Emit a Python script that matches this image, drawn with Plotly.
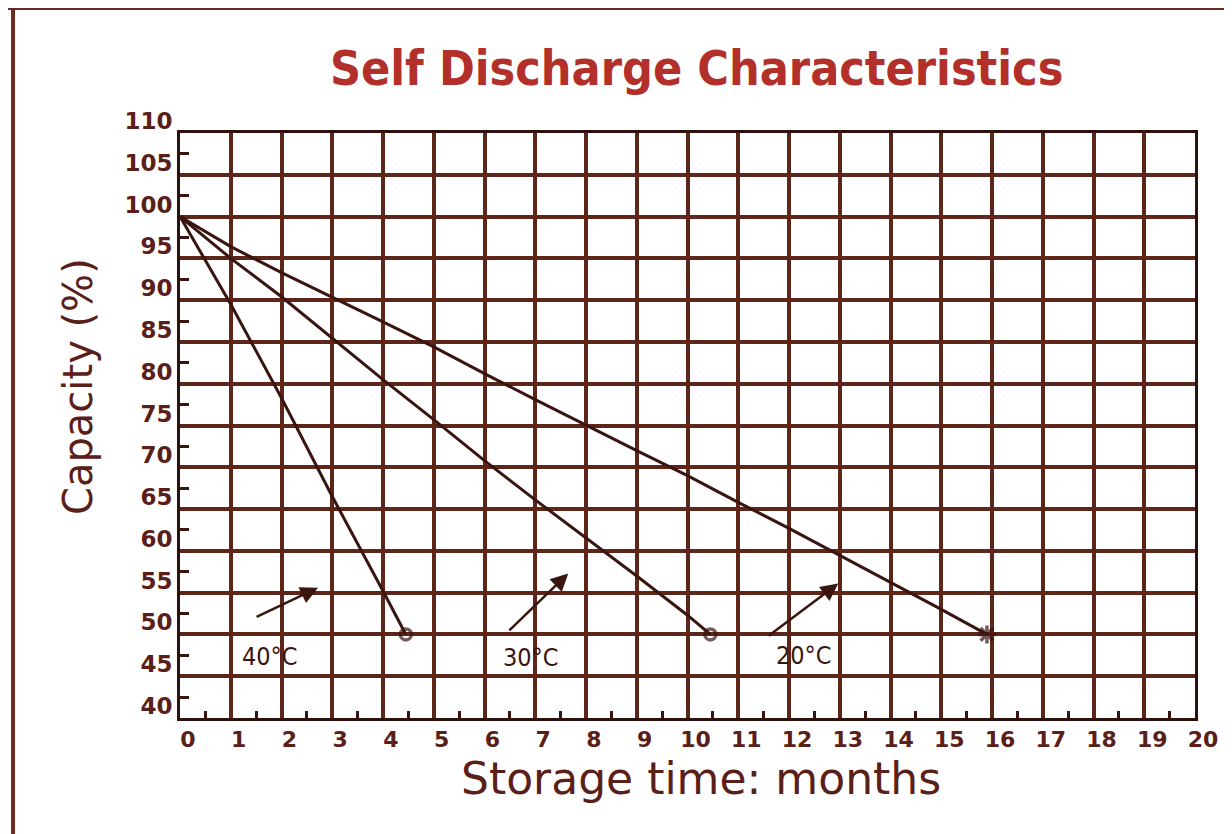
import plotly.graph_objects as go

# ---- data ----
months_40 = [0, 1, 2, 3, 4, 4.45]
cap_40 = [100, 89.5, 78.3, 66.5, 55.2, 50]

months_30 = [0, 1, 2, 3, 4, 5, 6, 7, 8, 9, 10, 10.45]
cap_30 = [100, 95.0, 90.4, 85.4, 80.5, 75.7, 70.8, 66.1, 61.6, 57.0, 52.3, 50]

months_20 = [0, 1, 2, 3, 4, 5, 6, 7, 8, 9, 10, 11, 12, 13, 14, 15, 15.9]
cap_20 = [100, 96.4, 93.3, 90.4, 87.4, 84.4, 81.2, 78.1, 75.0, 72.0, 69.0, 65.8, 62.7, 59.5, 56.3, 53.0, 50]

x_ticks = list(range(0, 21))
y_ticks = list(range(40, 111, 5))

# temperature labels and their arrows (data coordinates)
temp_labels = ["40°C", "30°C", "20°C"]
label_pos = [(1.77, 47.4), (6.92, 47.2), (12.3, 47.5)]
arrow_tail = [(1.48, 52.0), (6.46, 50.3), (11.57, 49.7)]
arrow_head = [(2.72, 55.6), (7.65, 57.3), (12.97, 56.1)]

LINE = "#3a150f"
GRID = "#5e2519"
TEXT = "#5a2018"
TITLE = "#b3302a"

fig = go.Figure()

series = [
    (months_40, cap_40, "40°C", "circle-open", 11),
    (months_30, cap_30, "30°C", "circle-open", 11),
    (months_20, cap_20, "20°C", "asterisk-open", 15),
]
for xs, ys, name, sym, msize in series:
    n = len(xs)
    fig.add_trace(go.Scatter(
        x=xs, y=ys, mode="lines+markers", name=name,
        line=dict(color=LINE, width=3),
        marker=dict(symbol=[sym if i == n - 1 else "circle" for i in range(n)],
                    size=[msize if i == n - 1 else 0 for i in range(n)],
                    color=LINE, line=dict(color=LINE, width=3.5)),
        showlegend=False, hoverinfo="skip",
    ))

annotations = []
for t, (lx, ly), (tx, ty), (hx, hy) in zip(temp_labels, label_pos, arrow_tail, arrow_head):
    annotations.append(dict(
        x=hx, y=hy, ax=tx, ay=ty, xref="x", yref="y", axref="x", ayref="y",
        text="", showarrow=True, arrowhead=2, arrowsize=1.4, arrowwidth=2.5,
        arrowcolor=LINE,
    ))
    annotations.append(dict(
        x=lx, y=ly, xref="x", yref="y", text=t, showarrow=False,
        font=dict(family="DejaVu Sans Condensed, DejaVu Sans", size=25, color=LINE),
    ))

# axis titles as annotations (placed like the reference)
annotations.append(dict(
    x=-0.1005, y=0.5675, xref="paper", yref="paper", text="Capacity (%)",
    textangle=-90, showarrow=False, xanchor="center", yanchor="middle",
    font=dict(family="DejaVu Sans", size=40, color=TEXT),
))
annotations.append(dict(
    x=0.5133, y=-0.1026, xref="paper", yref="paper", text="Storage time: months",
    showarrow=False, xanchor="center", yanchor="middle",
    font=dict(family="DejaVu Sans", size=44, color=TEXT),
))

axis_common = dict(
    showgrid=True, gridcolor=GRID, gridwidth=3.5,
    showline=True, linecolor="#2e100c", linewidth=3, mirror=True,
    zeroline=False, ticks="",
)

fig.update_layout(
    width=1224, height=826,
    paper_bgcolor="white", plot_bgcolor="white",
    margin=dict(l=172, r=37, t=125, b=116),
    title=dict(
        text="<b>Self Discharge Characteristics</b>",
        x=0.509, xref="paper", xanchor="center",
        y=0.9274, yref="container", yanchor="middle",
        font=dict(family="DejaVu Sans Condensed, DejaVu Sans", size=48, color=TITLE),
    ),
    xaxis=dict(
        range=[0, 20], tickvals=x_ticks, ticktext=[str(v) for v in x_ticks],
        tickfont=dict(family="DejaVu Sans", size=22, color=TEXT, weight="bold"),
        ticklabelshift=8,
        minor=dict(ticks="inside", ticklen=7, tickwidth=3, tickcolor=LINE,
                   tick0=0.5, dtick=1, showgrid=False),
        **axis_common,
    ),
    yaxis=dict(
        range=[40, 110], tickvals=y_ticks, ticktext=[str(v) for v in y_ticks],
        tickfont=dict(family="DejaVu Sans", size=23, color=TEXT, weight="bold"),
        ticklabelshift=-12,
        minor=dict(ticks="inside", ticklen=9, tickwidth=3, tickcolor=LINE,
                   tick0=42.5, dtick=5, showgrid=False),
        **axis_common,
    ),
    annotations=annotations,
    shapes=[
        dict(type="line", xref="paper", yref="paper", x0=-0.18, x1=1.04,
             y0=1.2135, y1=1.2135, line=dict(color="#6b2a22", width=4)),
        dict(type="line", xref="paper", yref="paper", x0=-0.1645, x1=-0.1645,
             y0=1.22, y1=-0.2, line=dict(color="#6b2a22", width=4)),
    ],
)

fig.write_html("out.html")
